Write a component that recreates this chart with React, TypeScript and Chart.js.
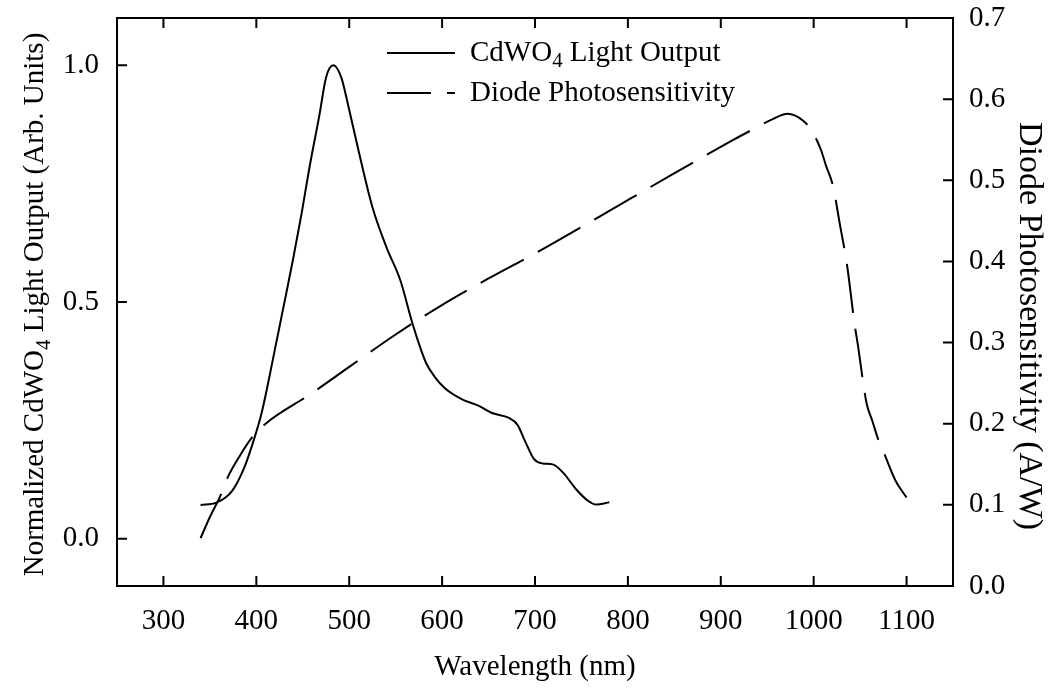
import React, { useEffect, useRef } from "react";
import { Chart, registerables } from "chart.js";

Chart.register(...registerables);

// Axis ticks
const WAVELENGTH_TICKS = [300, 400, 500, 600, 700, 800, 900, 1000, 1100];
const OUTPUT_TICKS = [0, 0.5, 1.0];
const SENSITIVITY_TICKS = [0, 0.1, 0.2, 0.3, 0.4, 0.5, 0.6, 0.7];

// CdWO4 emission spectrum (normalized)
const CDWO4_NM = [
  340, 357, 374, 387, 398, 405, 412, 420, 430, 440, 449, 457, 468, 475, 483, 491.5,
  498.6, 510, 525, 540, 555, 568, 578, 583, 592, 603, 621, 639, 653, 672, 681, 690,
  699, 708, 719, 730, 744, 757, 766, 780,
];
const CDWO4_OUTPUT = [
  0.071, 0.076, 0.101, 0.15, 0.213, 0.26, 0.322, 0.4, 0.497, 0.595, 0.69, 0.782,
  0.896, 0.974, 1.0, 0.974, 0.918, 0.82, 0.7, 0.616, 0.546, 0.455, 0.395, 0.37,
  0.342, 0.318, 0.295, 0.281, 0.266, 0.255, 0.241, 0.203, 0.168, 0.159, 0.157, 0.14,
  0.105, 0.08, 0.072, 0.077,
];

// Photodiode responsivity (A/W)
const DIODE_NM = [
  340, 350, 362, 368, 382, 396, 411, 459, 500, 550, 598, 650, 705, 769, 846, 909,
  940, 957, 972, 988, 998, 1008, 1013, 1021, 1028, 1036, 1044, 1048, 1053, 1057,
  1063, 1070, 1076, 1088, 1100,
];
const DIODE_RESPONSE = [
  0.059, 0.085, 0.113, 0.131, 0.16, 0.184, 0.201, 0.237, 0.27, 0.31, 0.345, 0.379,
  0.413, 0.455, 0.506, 0.547, 0.566, 0.576, 0.582, 0.574, 0.561, 0.537, 0.519, 0.492,
  0.447, 0.395, 0.323, 0.294, 0.253, 0.225, 0.204, 0.179, 0.163, 0.13, 0.109,
];

const CDWO4_LABEL = "CdWO₄ Light Output";
const DIODE_LABEL = "Diode Photosensitivity";
const X_TITLE = "Wavelength (nm)";
const LEFT_TITLE = "Normalized CdWO₄ Light Output (Arb. Units)";
const RIGHT_TITLE = "Diode Photosensitivity (A/W)";

const FAMILY = '"Liberation Serif", "Times New Roman", serif';
const FONT_SIZE = 29;
const RIGHT_TITLE_SIZE = 34;
const DIODE_DASH = [49, 16];

const SUB_DIGITS: Record<string, string> = {
  "₀": "0", "₁": "1", "₂": "2", "₃": "3", "₄": "4",
  "₅": "5", "₆": "6", "₇": "7", "₈": "8", "₉": "9",
};

type Part = { text: string; sub: boolean };

function splitRich(text: string): Part[] {
  const parts: Part[] = [];
  for (const ch of text) {
    const sub = ch in SUB_DIGITS;
    const c = sub ? SUB_DIGITS[ch] : ch;
    const last = parts[parts.length - 1];
    if (last && last.sub === sub) last.text += c;
    else parts.push({ text: c, sub });
  }
  return parts;
}

function setFont(ctx: CanvasRenderingContext2D, size: number) {
  ctx.font = `${size}px ${FAMILY}`;
}

function measureRich(ctx: CanvasRenderingContext2D, text: string, size: number) {
  let w = 0;
  for (const p of splitRich(text)) {
    setFont(ctx, p.sub ? size * 0.72 : size);
    w += ctx.measureText(p.text).width;
  }
  return w;
}

// Draws text left-aligned on an alphabetic baseline, rendering subscript digits smaller and lowered
function drawRich(ctx: CanvasRenderingContext2D, text: string, x: number, y: number, size: number) {
  ctx.textAlign = "left";
  ctx.textBaseline = "alphabetic";
  let cx = x;
  for (const p of splitRich(text)) {
    const s = p.sub ? size * 0.72 : size;
    setFont(ctx, s);
    ctx.fillText(p.text, cx, p.sub ? y + size * 0.23 : y);
    cx += ctx.measureText(p.text).width;
  }
}

const framePlugin = {
  id: "frameWithInnerTicks",
  afterDatasetsDraw(chart: any) {
    const { ctx, chartArea, scales } = chart;
    const { left, right, top, bottom } = chartArea;
    const len = 10;
    ctx.save();
    ctx.strokeStyle = "#000";
    ctx.lineWidth = 2;
    ctx.setLineDash([]);
    ctx.strokeRect(left, top, right - left, bottom - top);
    ctx.beginPath();
    for (const t of scales.x.ticks) {
      const px = scales.x.getPixelForValue(t.value);
      ctx.moveTo(px, bottom);
      ctx.lineTo(px, bottom - len);
      ctx.moveTo(px, top);
      ctx.lineTo(px, top + len);
    }
    for (const t of scales.y.ticks) {
      const py = scales.y.getPixelForValue(t.value);
      ctx.moveTo(left, py);
      ctx.lineTo(left + len, py);
    }
    for (const t of scales.y2.ticks) {
      const py = scales.y2.getPixelForValue(t.value);
      ctx.moveTo(right, py);
      ctx.lineTo(right - len, py);
    }
    ctx.stroke();
    ctx.restore();
  },
};

const legendPlugin = {
  id: "insetLegend",
  afterDraw(chart: any) {
    const { ctx } = chart;
    const x0 = 387;
    const x1 = 455;
    const textX = 470;
    ctx.save();
    ctx.fillStyle = "#000";
    ctx.strokeStyle = "#000";
    ctx.lineWidth = 2;
    chart.data.datasets.forEach((ds: any, i: number) => {
      const y = 53 + i * 40;
      ctx.setLineDash(ds.borderDash || []);
      ctx.lineDashOffset = ds.borderDash ? 5 : 0;
      ctx.beginPath();
      ctx.moveTo(x0, y);
      ctx.lineTo(x1, y);
      ctx.stroke();
      ctx.setLineDash([]);
      drawRich(ctx, ds.label, textX, y + 7.5, FONT_SIZE);
    });
    ctx.restore();
  },
};

const sideTitlesPlugin = {
  id: "sideTitles",
  afterDraw(chart: any) {
    const { ctx, chartArea } = chart;
    const midY = (chartArea.top + chartArea.bottom) / 2;
    ctx.save();
    ctx.fillStyle = "#000";

    ctx.save();
    ctx.translate(chartArea.left - 74, midY + 2.5);
    ctx.rotate(-Math.PI / 2);
    const wl = measureRich(ctx, LEFT_TITLE, FONT_SIZE);
    drawRich(ctx, LEFT_TITLE, -wl / 2, 0, FONT_SIZE);
    ctx.restore();

    ctx.save();
    ctx.translate(chartArea.right + 67, midY + 24);
    ctx.rotate(Math.PI / 2);
    const wr = measureRich(ctx, RIGHT_TITLE, RIGHT_TITLE_SIZE);
    drawRich(ctx, RIGHT_TITLE, -wr / 2, 0, RIGHT_TITLE_SIZE);
    ctx.restore();

    ctx.restore();
  },
};

// Fixes the plot box: the value axes reserve a fixed width and top margin
const fitVertical = (width: number) => (s: any) => {
  s.width = width;
  s.paddingTop = 18;
  s.paddingBottom = 0;
};

export default function App() {
  const canvasRef = useRef<HTMLCanvasElement>(null);

  useEffect(() => {
    const canvas = canvasRef.current;
    if (!canvas) return;
    const font = { family: FAMILY, size: FONT_SIZE };

    const chart = new Chart(canvas, {
      type: "line",
      data: {
        datasets: [
          {
            label: CDWO4_LABEL,
            data: CDWO4_NM.map((x, i) => ({ x, y: CDWO4_OUTPUT[i] })),
            yAxisID: "y",
            borderColor: "#000",
            borderWidth: 2,
            pointRadius: 0,
            cubicInterpolationMode: "monotone",
            fill: false,
          },
          {
            label: DIODE_LABEL,
            data: DIODE_NM.map((x, i) => ({ x, y: DIODE_RESPONSE[i] })),
            yAxisID: "y2",
            borderColor: "#000",
            borderWidth: 2,
            borderDash: DIODE_DASH,
            pointRadius: 0,
            cubicInterpolationMode: "monotone",
            fill: false,
          },
        ],
      },
      options: {
        responsive: false,
        animation: false,
        devicePixelRatio: 1,
        layout: { padding: 0 },
        plugins: {
          legend: { display: false },
          tooltip: { enabled: false },
        },
        scales: {
          x: {
            type: "linear",
            position: "bottom",
            min: 250,
            max: 1150,
            afterBuildTicks: (s: any) => {
              s.ticks = WAVELENGTH_TICKS.map((value) => ({ value }));
            },
            afterFit: (s: any) => {
              s.height = 113;
              s.paddingLeft = 0;
              s.paddingRight = 0;
            },
            grid: { display: false, drawTicks: false },
            border: { display: false },
            ticks: {
              font,
              color: "#000",
              padding: 18,
              autoSkip: false,
              maxRotation: 0,
              callback: (v: any) => String(v),
            },
            title: {
              display: true,
              text: X_TITLE,
              font,
              color: "#000",
              padding: { top: 0, bottom: 14 },
            },
          },
          y: {
            type: "linear",
            position: "left",
            min: -0.1,
            max: 1.1,
            afterBuildTicks: (s: any) => {
              s.ticks = OUTPUT_TICKS.map((value) => ({ value }));
            },
            afterFit: fitVertical(117),
            grid: { display: false, drawTicks: false },
            border: { display: false },
            ticks: {
              font,
              color: "#000",
              padding: 18,
              callback: (v: any) => Number(v).toFixed(1),
            },
          },
          y2: {
            type: "linear",
            position: "right",
            min: 0,
            max: 0.7,
            afterBuildTicks: (s: any) => {
              s.ticks = SENSITIVITY_TICKS.map((value) => ({ value }));
            },
            afterFit: fitVertical(101),
            grid: { display: false, drawTicks: false },
            border: { display: false },
            ticks: {
              font,
              color: "#000",
              padding: 16,
              callback: (v: any) => Number(v).toFixed(1),
            },
          },
        },
      },
      plugins: [framePlugin, legendPlugin, sideTitlesPlugin],
    } as any);

    return () => chart.destroy();
  }, []);

  return (
    <div
      style={{
        position: "absolute",
        left: 0,
        top: 0,
        width: 1054,
        height: 699,
        background: "#fff",
      }}
    >
      <canvas ref={canvasRef} width={1054} height={699} style={{ display: "block" }} />
    </div>
  );
}
